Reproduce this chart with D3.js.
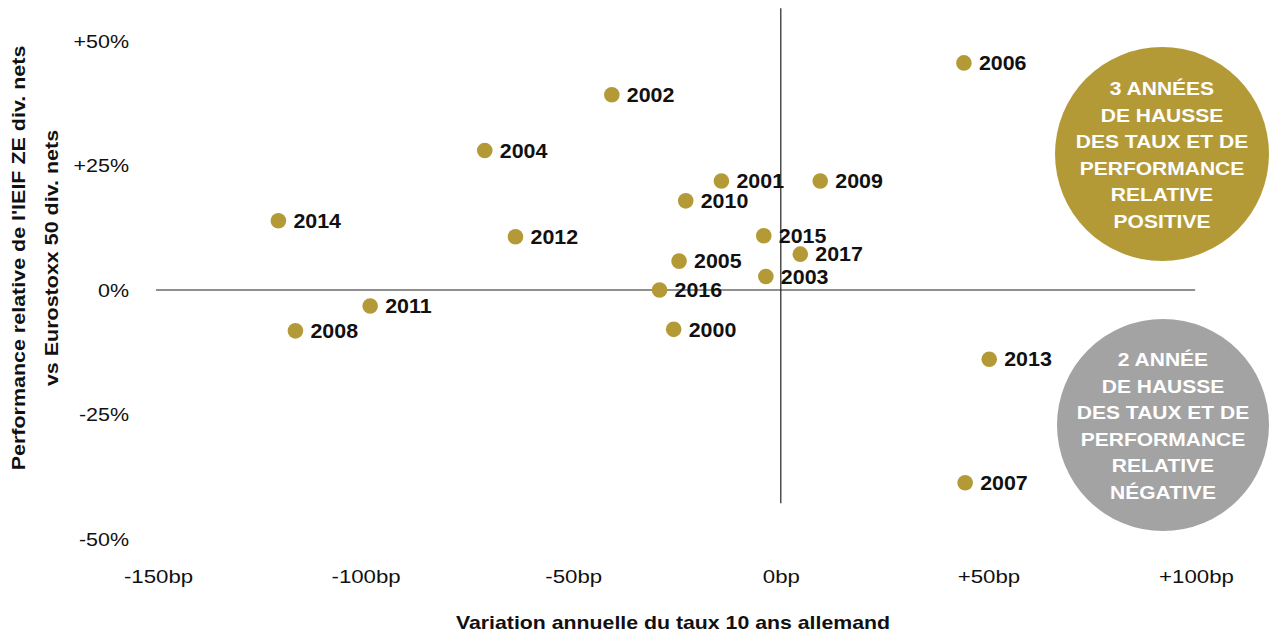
<!DOCTYPE html>
<html>
<head>
<meta charset="utf-8">
<script src="https://cdn.jsdelivr.net/npm/d3@7"></script>
<style>
  html, body { margin: 0; padding: 0; background: #fff; }
  svg { display: block; font-family: "Liberation Sans", Arial, sans-serif; }
</style>
</head>
<body>
<svg id="chart" width="1270" height="635"></svg>
<script>
// Annual change of the German 10y yield (bp) vs relative performance (%)
const years = ["2000","2001","2002","2003","2004","2005","2006","2007","2008",
               "2009","2010","2011","2012","2013","2014","2015","2016","2017"];
const rateChangeBp = [-25.8, -14.3, -40.7, -3.6, -71.3, -24.5, 44.1, 44.4, -116.9,
                      9.5, -22.9, -98.9, -63.9, 50.2, -121.0, -4.1, -29.2, 4.7];
const relPerfPct = [-7.9, 21.9, 39.2, 2.7, 28.0, 5.8, 45.6, -38.7, -8.2,
                    21.9, 17.9, -3.2, 10.7, -13.9, 13.9, 10.9, 0.0, 7.2];

const xTicks = [-150, -100, -50, 0, 50, 100];
const yTicks = [50, 25, 0, -25, -50];

const bubbleTop = ["3 ANNÉES", "DE HAUSSE", "DES TAUX ET DE", "PERFORMANCE", "RELATIVE", "POSITIVE"];
const bubbleBottom = ["2 ANNÉE", "DE HAUSSE", "DES TAUX ET DE", "PERFORMANCE", "RELATIVE", "NÉGATIVE"];

const gold = "#b49a37";
const grey = "#a3a3a3";

const svg = d3.select("#chart");

// widen glyphs horizontally by a factor, keeping the anchor in place
function widen(sel, k) {
  sel.each(function () {
    const len = this.getComputedTextLength();
    d3.select(this).attr("textLength", len * k).attr("lengthAdjust", "spacingAndGlyphs");
  });
}

const x = d3.scaleLinear().domain([-150, 100]).range([158, 1196]);
const y = d3.scaleLinear().domain([-50, 50]).range([539, 41]);

const fmtX = d => (d > 0 ? "+" : "") + d + "bp";
const fmtY = d => (d > 0 ? "+" : "") + d + "%";

// x axis tick labels
const xAxis = d3.axisBottom(x).tickValues(xTicks).tickFormat(fmtX).tickSize(0).tickPadding(0);
const gx = svg.append("g").attr("transform", "translate(0,576)").call(xAxis);
gx.select(".domain").remove();
gx.selectAll("text").attr("font-size", 19).attr("fill", "#111")
  .attr("font-family", "Liberation Sans, Arial, sans-serif").attr("dy", "0.35em");
widen(gx.selectAll("text"), 1.17);

// y axis tick labels
const yAxis = d3.axisLeft(y).tickValues(yTicks).tickFormat(fmtY).tickSize(0).tickPadding(0);
const gy = svg.append("g").attr("transform", "translate(129,0)").call(yAxis);
gy.select(".domain").remove();
gy.selectAll("text").attr("font-size", 19).attr("fill", "#111")
  .attr("font-family", "Liberation Sans, Arial, sans-serif");
widen(gy.selectAll("text"), 1.13);

// zero lines
svg.append("line")
  .attr("x1", x(-150.5)).attr("x2", x(99.8))
  .attr("y1", y(0)).attr("y2", y(0))
  .attr("stroke", "#6b6b6b").attr("stroke-width", 1.6);
svg.append("line")
  .attr("x1", x(0)).attr("x2", x(0))
  .attr("y1", y(56.6)).attr("y2", y(-42.8))
  .attr("stroke", "#222").attr("stroke-width", 1.2);

// axis titles
const xTitle = svg.append("text")
  .attr("x", 673).attr("y", 629)
  .attr("text-anchor", "middle")
  .attr("font-size", 19).attr("font-weight", "bold").attr("fill", "#111")
  .text("Variation annuelle du taux 10 ans allemand");
widen(xTitle, 1.12);

const yTitle = svg.append("text")
  .attr("transform", "translate(0,258) rotate(-90)")
  .attr("text-anchor", "middle")
  .attr("font-size", 19).attr("font-weight", "bold").attr("fill", "#111");
yTitle.append("tspan").attr("x", 0).attr("y", 25).text("Performance relative de l'IEIF ZE div. nets");
yTitle.append("tspan").attr("x", 0).attr("y", 58).text("vs Eurostoxx 50 div. nets");
widen(yTitle.selectAll("tspan"), 1.13);

// quadrant bubbles
function bubble(cx, cy, r, fill, lines) {
  svg.append("circle").attr("cx", cx).attr("cy", cy).attr("r", r).attr("fill", fill);
  const step = 26.5;
  const y0 = cy + 1 - step * (lines.length - 1) / 2;
  lines.forEach((l, i) => {
    const t = svg.append("text")
      .attr("x", cx).attr("y", y0 + i * step).attr("dy", "0.36em")
      .attr("text-anchor", "middle")
      .attr("font-size", 17.5).attr("font-weight", "bold").attr("fill", "#fff")
      .text(l);
    widen(t, 1.2);
  });
}
bubble(1162, 154, 107, gold, bubbleTop);
bubble(1163, 425, 106, grey, bubbleBottom);

// points
const pts = years.map((yr, i) => ({ yr, bp: rateChangeBp[i], pct: relPerfPct[i] }));
const g = svg.append("g");
g.selectAll("circle").data(pts).join("circle")
  .attr("cx", d => x(d.bp)).attr("cy", d => y(d.pct))
  .attr("r", 7.8).attr("fill", gold);
const labels = g.selectAll("text").data(pts).join("text")
  .attr("x", d => x(d.bp) + 15).attr("y", d => y(d.pct))
  .attr("dy", "0.36em")
  .attr("font-size", 20).attr("font-weight", "bold").attr("fill", "#111")
  .text(d => d.yr);
widen(labels, 1.07);
</script>
</body>
</html>
